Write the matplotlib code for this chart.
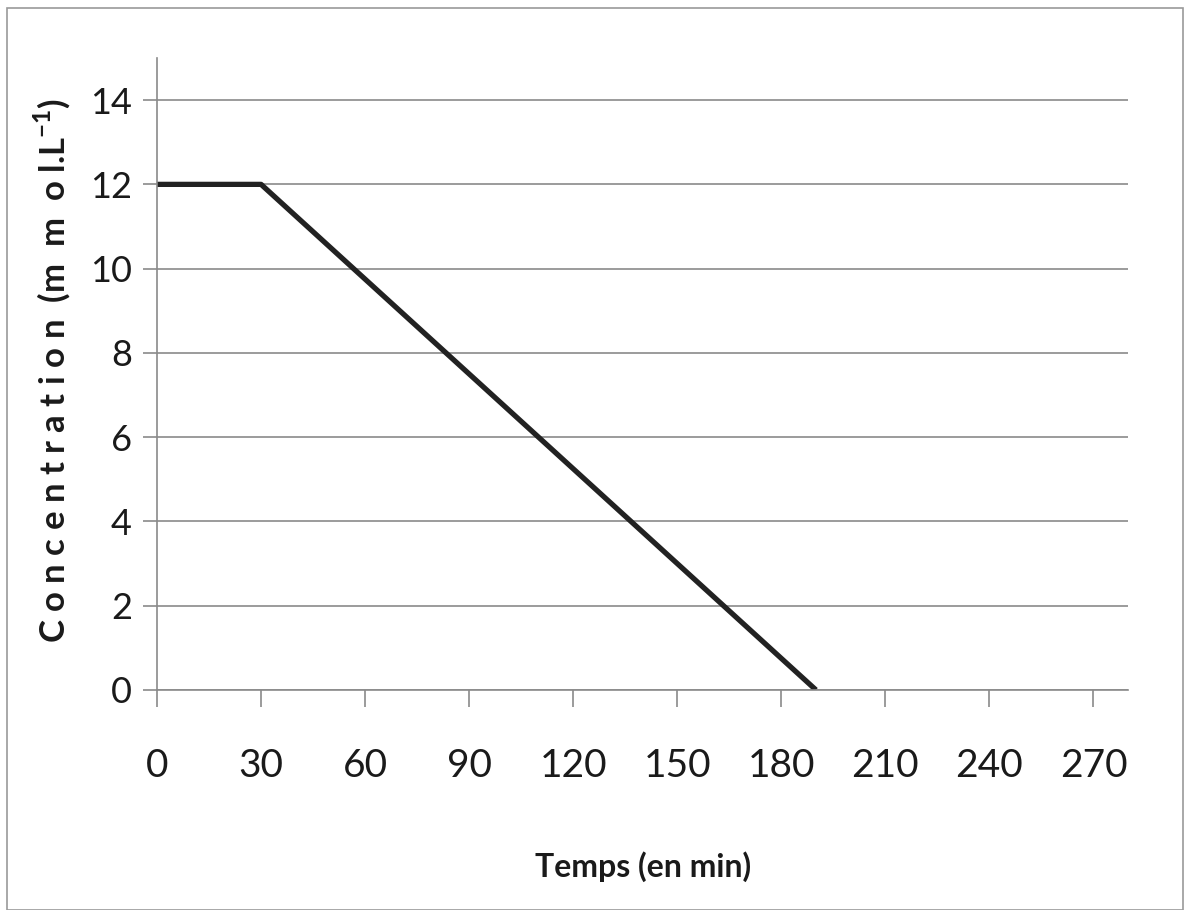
import matplotlib.pyplot as plt
from matplotlib.patches import Rectangle

# données
temps = [0, 30, 190]
concentration = [12, 12, 0]
x_ticks = [0, 30, 60, 90, 120, 150, 180, 210, 240, 270]
y_ticks = [0, 2, 4, 6, 8, 10, 12, 14]

plt.rcParams['font.family'] = ['Lato', 'DejaVu Sans']
plt.rcParams['mathtext.fontset'] = 'custom'
plt.rcParams['mathtext.rm'] = 'Lato'
plt.rcParams['mathtext.bf'] = 'Lato:bold'

fig = plt.figure(figsize=(11.85, 9.10), dpi=100)
ax = fig.add_axes([0.1325, 0.2418, 0.8195, 0.6945])

# cadre gris autour de la figure
fig.patches.append(Rectangle((0.006, 0.0), 0.992, 0.991, transform=fig.transFigure,
                             fill=False, edgecolor='#9a9a9a', linewidth=1.2))

ax.plot(temps, concentration, color='#222222', linewidth=3.8, solid_capstyle='butt')

ax.set_xlim(0, 280)
ax.set_ylim(0, 15)
ax.set_xticks(x_ticks)
ax.set_yticks(y_ticks)
ax.yaxis.grid(True, color='#8a8a8a', linewidth=1.2)
ax.set_axisbelow(True)

for side in ['top', 'right']:
    ax.spines[side].set_visible(False)
ax.spines['left'].set_color('#8a8a8a')
ax.spines['bottom'].set_color('#8a8a8a')
ax.spines['left'].set_linewidth(1.2)
ax.spines['bottom'].set_linewidth(1.2)

ax.tick_params(axis='y', direction='out', length=10, width=1.2, color='#8a8a8a',
               labelsize=26, pad=8, labelcolor='#1a1a1a')
ax.tick_params(axis='x', direction='out', length=12, width=1.2, color='#8a8a8a',
               labelsize=28, pad=30, labelcolor='#1a1a1a')

ax.set_xlabel('Temps (en min)', fontsize=23, fontweight='bold', color='#1a1a1a')
ax.xaxis.set_label_coords(0.5, -0.255)
ax.set_ylabel('C o n c e n t r a t i o n  (m  m  o l.L$^{\\mathbf{-1}}$)', fontsize=25,
              fontweight='bold', color='#1a1a1a')
ax.yaxis.set_label_coords(-0.086, 0.505)

fig.savefig('out.png', dpi=100, facecolor='white')
